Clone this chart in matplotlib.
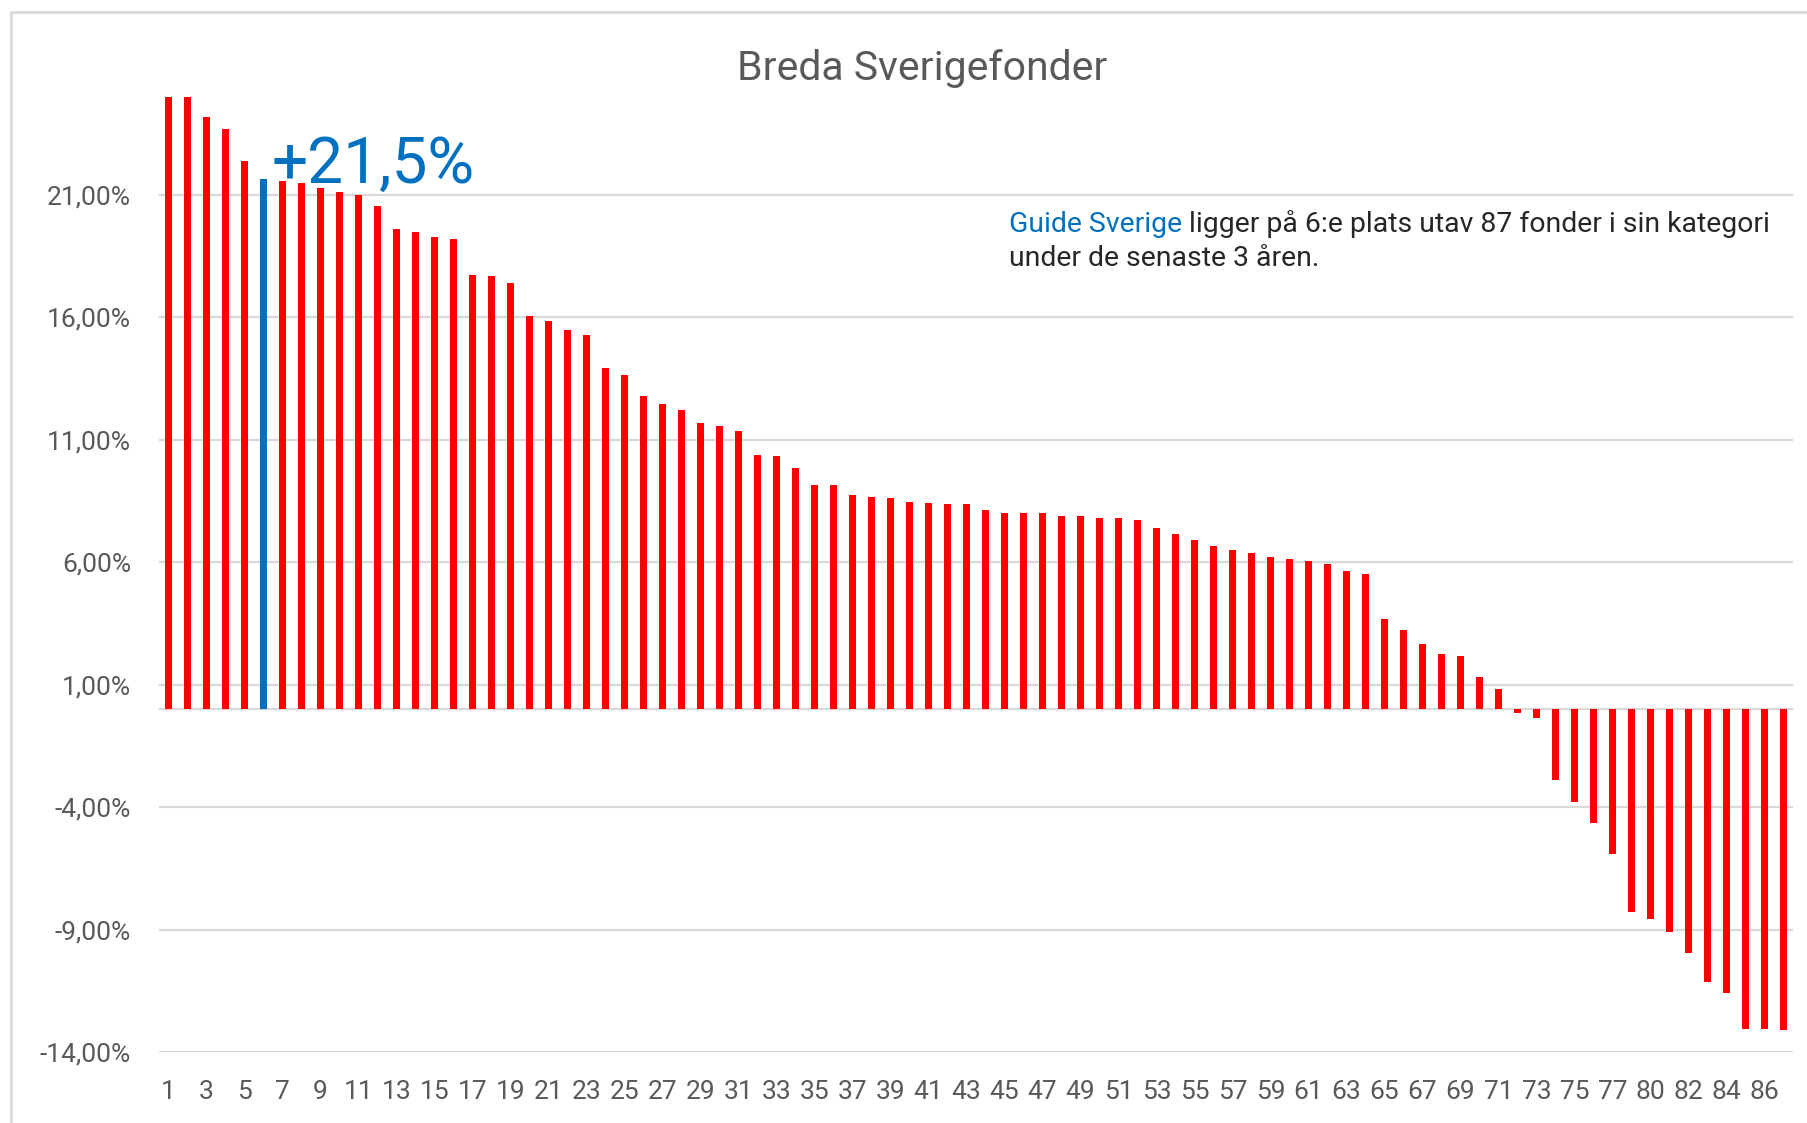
import matplotlib
matplotlib.use("Agg")
import matplotlib.pyplot as plt
from matplotlib import font_manager
from matplotlib.patches import Rectangle
from matplotlib.ticker import FuncFormatter

# rank labels (rank 79 is missing in the source)
ranks = list(range(1, 79)) + list(range(80, 88))

# 3-year return in percent, sorted
returns = [25.0, 25.0, 24.19, 23.68, 22.40, 21.65, 21.58, 21.50, 21.28, 21.12,
           21.01, 20.57, 19.60, 19.50, 19.29, 19.21, 17.72, 17.69, 17.42, 16.06,
           15.84, 15.49, 15.29, 13.92, 13.66, 12.79, 12.45, 12.22, 11.70, 11.55,
           11.35, 10.37, 10.34, 9.85, 9.16, 9.15, 8.76, 8.66, 8.64, 8.48,
           8.44, 8.40, 8.38, 8.13, 8.00, 8.00, 8.00, 7.89, 7.89, 7.81,
           7.80, 7.73, 7.40, 7.15, 6.93, 6.68, 6.51, 6.37, 6.23, 6.15,
           6.04, 5.95, 5.65, 5.51, 3.68, 3.23, 2.68, 2.25, 2.19, 1.31,
           0.82, -0.16, -0.37, -2.88, -3.78, -4.64, -5.90, -8.26, -8.57, -9.09,
           -9.96, -11.11, -11.59, -13.04, -13.04, -13.10]

highlight = 6
yticks = [-14, -9, -4, 1, 6, 11, 16, 21]

names = set(f.name for f in font_manager.fontManager.ttflist)
tick_font = "Liberation Sans Narrow" if "Liberation Sans Narrow" in names else "Roboto"

red = "#FF0000"
blue = "#0070C0"
gray = "#595959"
grid = "#D9D9D9"

fig = plt.figure(figsize=(18.08, 11.23), dpi=100)
ax = fig.add_axes([159/1808, 1 - 1052.4/1123, (1793-159)/1808, (1052.4-97)/1123])

pos = list(range(1, len(returns) + 1))
colors = [blue if p == highlight else red for p in pos]
ax.bar(pos, returns, width=0.42, color=colors, zorder=3)

ax.set_xlim(0.5, len(returns) + 0.5)
ax.set_ylim(-14, 25)
ax.set_yticks(yticks)
ax.yaxis.set_major_formatter(FuncFormatter(lambda v, p: ("%.2f%%" % v).replace(".", ",")))
ax.set_xticks(pos[::2])
ax.set_xticklabels([str(r) for r in ranks[::2]])
ax.grid(axis="y", color=grid, linewidth=1.6, zorder=0)
ax.axhline(0, color=grid, linewidth=1.6, zorder=2)
for s in ax.spines.values():
    s.set_visible(False)
ax.tick_params(length=0, labelcolor=gray, labelsize=19)
ax.tick_params(axis="y", pad=20)
ax.tick_params(axis="x", pad=20)
for lab in ax.get_xticklabels() + ax.get_yticklabels():
    lab.set_fontfamily(tick_font)

fig.text(922/1808, 1 - 68/1123, "Breda Sverigefonder", ha="center", va="center",
         fontsize=29.5, color=gray, family="Roboto")

ax.text(6.45, 21.5, "+21,5%", color=blue, fontsize=46, family="Roboto",
        ha="left", va="baseline")

t1 = fig.text(1009/1808, 1 - 224.5/1123, "Guide Sverige", color=blue, fontsize=20.4,
              family="Roboto", ha="left", va="center")
ax.annotate(" ligger på 6:e plats utav 87 fonder i sin kategori", xy=(1, 0.5),
            xycoords=t1, ha="left", va="center", color="#262626", fontsize=20.4,
            family="Roboto")
fig.text(1009/1808, 1 - 258.5/1123, "under de senaste 3 åren.", color="#262626",
         fontsize=20.4, family="Roboto", ha="left", va="center")

fig.patches.append(Rectangle((11/1808, -0.1), 1.2, 1.1 - 12/1123, transform=fig.transFigure,
                             fill=False, edgecolor=grid, linewidth=2))

fig.savefig("out.png", dpi=100, facecolor="white")
